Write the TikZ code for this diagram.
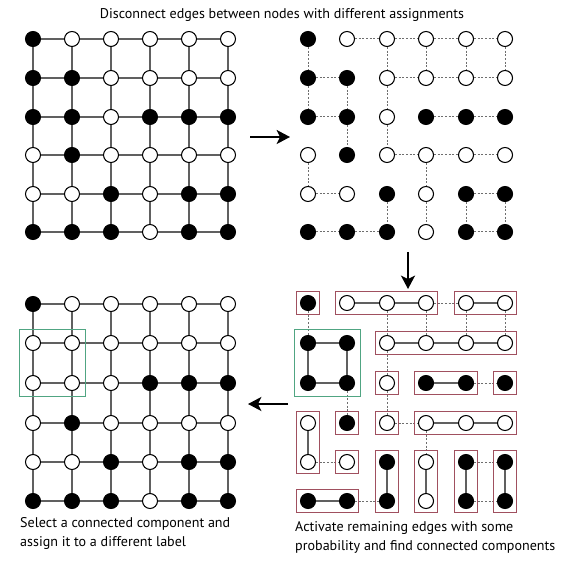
\documentclass[tikz,border=0pt]{standalone}
\usepackage{fontspec}
\setmainfont{PT Sans}
\usetikzlibrary{arrows.meta,calc,fit,positioning}

\tikzset{
  blk/.style={circle,draw=black,fill=black,line width=0.032cm,minimum size=0.45cm,inner sep=0pt},
  wht/.style={circle,draw=black,fill=white,line width=0.032cm,minimum size=0.45cm,inner sep=0pt},
  grid edge/.style={draw=r96g96b96,line width=0.035cm},
  dotted edge/.style={draw=r110g110b110,line width=0.03cm,dash pattern=on 0.06cm off 0.05cm},
  comp/.style={draw=r160g80b95,line width=0.036cm,inner sep=0.1cm},
  picked/.style={draw=r80g165b130,line width=0.036cm,inner sep=0.16cm},
  move arrow/.style={line width=0.06cm,-{Stealth[length=0.4cm,width=0.42cm,inset=0.1cm]}},
  caption/.style={align=left,inner sep=0pt,font=\fontsize{12}{16.5}\selectfont}
}

\begin{document}
\begin{tikzpicture}[x=0.03cm,y=-0.03cm]
                    \useasboundingbox (0,0) rectangle (560,573);

                    % Changing color 96 96 96
                    \definecolor{r96g96b96}{rgb}{0.376471,0.376471,0.376471}%
                    % Changing color 110 110 110
                    \definecolor{r110g110b110}{rgb}{0.431373,0.431373,0.431373}%
                    % Changing color 160 80 95
                    \definecolor{r160g80b95}{rgb}{0.627451,0.313725,0.372549}%
                    % Changing color 80 165 130
                    \definecolor{r80g165b130}{rgb}{0.313725,0.647059,0.509804}%

                    % Title
                    \node[caption] (title) at (282,15) {Disconnect edges between nodes with different assignments};

                    % Marking points of grid s (start)
                    \node[blk] (s00) at (33,39) {}; \node[wht] (s01) at (72,39) {}; \node[wht] (s02) at (111,39) {}; \node[wht] (s03) at (150,39) {}; \node[wht] (s04) at (189,39) {}; \node[wht] (s05) at (228,39) {};
                    \node[blk] (s10) at (33,78) {}; \node[blk] (s11) at (72,78) {}; \node[wht] (s12) at (111,78) {}; \node[wht] (s13) at (150,78) {}; \node[wht] (s14) at (189,78) {}; \node[wht] (s15) at (228,78) {};
                    \node[blk] (s20) at (33,117) {}; \node[blk] (s21) at (72,117) {}; \node[wht] (s22) at (111,117) {}; \node[blk] (s23) at (150,117) {}; \node[blk] (s24) at (189,117) {}; \node[blk] (s25) at (228,117) {};
                    \node[wht] (s30) at (33,155) {}; \node[blk] (s31) at (72,155) {}; \node[wht] (s32) at (111,155) {}; \node[wht] (s33) at (150,155) {}; \node[wht] (s34) at (189,155) {}; \node[wht] (s35) at (228,155) {};
                    \node[wht] (s40) at (33,194) {}; \node[wht] (s41) at (72,194) {}; \node[blk] (s42) at (111,194) {}; \node[wht] (s43) at (150,194) {}; \node[blk] (s44) at (189,194) {}; \node[blk] (s45) at (228,194) {};
                    \node[blk] (s50) at (33,232) {}; \node[blk] (s51) at (72,232) {}; \node[blk] (s52) at (111,232) {}; \node[wht] (s53) at (150,232) {}; \node[blk] (s54) at (189,232) {}; \node[blk] (s55) at (228,232) {};

                    % Drawing lines of grid s
                    \draw[grid edge] (s00) -- (s01) -- (s02) -- (s03) -- (s04) -- (s05);
                    \draw[grid edge] (s10) -- (s11) -- (s12) -- (s13) -- (s14) -- (s15);
                    \draw[grid edge] (s20) -- (s21) -- (s22) -- (s23) -- (s24) -- (s25);
                    \draw[grid edge] (s30) -- (s31) -- (s32) -- (s33) -- (s34) -- (s35);
                    \draw[grid edge] (s40) -- (s41) -- (s42) -- (s43) -- (s44) -- (s45);
                    \draw[grid edge] (s50) -- (s51) -- (s52) -- (s53) -- (s54) -- (s55);
                    \draw[grid edge] (s00) -- (s10) -- (s20) -- (s30) -- (s40) -- (s50);
                    \draw[grid edge] (s01) -- (s11) -- (s21) -- (s31) -- (s41) -- (s51);
                    \draw[grid edge] (s02) -- (s12) -- (s22) -- (s32) -- (s42) -- (s52);
                    \draw[grid edge] (s03) -- (s13) -- (s23) -- (s33) -- (s43) -- (s53);
                    \draw[grid edge] (s04) -- (s14) -- (s24) -- (s34) -- (s44) -- (s54);
                    \draw[grid edge] (s05) -- (s15) -- (s25) -- (s35) -- (s45) -- (s55);

                    % Marking points of grid d (disconnected)
                    \node[blk] (d00) at (308,39) {}; \node[wht] (d01) at (347,39) {}; \node[wht] (d02) at (387,39) {}; \node[wht] (d03) at (426,39) {}; \node[wht] (d04) at (466,39) {}; \node[wht] (d05) at (505,39) {};
                    \node[blk] (d10) at (308,78) {}; \node[blk] (d11) at (347,78) {}; \node[wht] (d12) at (387,78) {}; \node[wht] (d13) at (426,78) {}; \node[wht] (d14) at (466,78) {}; \node[wht] (d15) at (505,78) {};
                    \node[blk] (d20) at (308,117) {}; \node[blk] (d21) at (347,117) {}; \node[wht] (d22) at (387,117) {}; \node[blk] (d23) at (426,117) {}; \node[blk] (d24) at (466,117) {}; \node[blk] (d25) at (505,117) {};
                    \node[wht] (d30) at (308,155) {}; \node[blk] (d31) at (347,155) {}; \node[wht] (d32) at (387,155) {}; \node[wht] (d33) at (426,155) {}; \node[wht] (d34) at (466,155) {}; \node[wht] (d35) at (505,155) {};
                    \node[wht] (d40) at (308,194) {}; \node[wht] (d41) at (347,194) {}; \node[blk] (d42) at (387,194) {}; \node[wht] (d43) at (426,194) {}; \node[blk] (d44) at (466,194) {}; \node[blk] (d45) at (505,194) {};
                    \node[blk] (d50) at (308,232) {}; \node[blk] (d51) at (347,232) {}; \node[blk] (d52) at (387,232) {}; \node[wht] (d53) at (426,232) {}; \node[blk] (d54) at (466,232) {}; \node[blk] (d55) at (505,232) {};

                    % Drawing lines of grid d, same assignment only
                    \draw[dotted edge] (d01) -- (d02) -- (d03) -- (d04) -- (d05);
                    \draw[dotted edge] (d10) -- (d11) (d12) -- (d13) -- (d14) -- (d15);
                    \draw[dotted edge] (d20) -- (d21) (d23) -- (d24) -- (d25);
                    \draw[dotted edge] (d32) -- (d33) -- (d34) -- (d35);
                    \draw[dotted edge] (d40) -- (d41) (d44) -- (d45);
                    \draw[dotted edge] (d50) -- (d51) -- (d52) (d54) -- (d55);
                    \draw[dotted edge] (d00) -- (d10) -- (d20) (d30) -- (d40);
                    \draw[dotted edge] (d11) -- (d21) -- (d31);
                    \draw[dotted edge] (d02) -- (d12) -- (d22) -- (d32) (d42) -- (d52);
                    \draw[dotted edge] (d03) -- (d13) (d33) -- (d43) -- (d53);
                    \draw[dotted edge] (d04) -- (d14) (d44) -- (d54);
                    \draw[dotted edge] (d05) -- (d15) (d45) -- (d55);

                    % Marking points of grid c (components)
                    \node[blk] (c00) at (308,303) {}; \node[wht] (c01) at (347,303) {}; \node[wht] (c02) at (387,303) {}; \node[wht] (c03) at (426,303) {}; \node[wht] (c04) at (466,303) {}; \node[wht] (c05) at (505,303) {};
                    \node[blk] (c10) at (308,343) {}; \node[blk] (c11) at (347,343) {}; \node[wht] (c12) at (387,343) {}; \node[wht] (c13) at (426,343) {}; \node[wht] (c14) at (466,343) {}; \node[wht] (c15) at (505,343) {};
                    \node[blk] (c20) at (308,383) {}; \node[blk] (c21) at (347,383) {}; \node[wht] (c22) at (387,383) {}; \node[blk] (c23) at (426,383) {}; \node[blk] (c24) at (466,383) {}; \node[blk] (c25) at (505,383) {};
                    \node[wht] (c30) at (308,423) {}; \node[blk] (c31) at (347,423) {}; \node[wht] (c32) at (387,423) {}; \node[wht] (c33) at (426,423) {}; \node[wht] (c34) at (466,423) {}; \node[wht] (c35) at (505,423) {};
                    \node[wht] (c40) at (308,462) {}; \node[wht] (c41) at (347,462) {}; \node[blk] (c42) at (387,462) {}; \node[wht] (c43) at (426,462) {}; \node[blk] (c44) at (466,462) {}; \node[blk] (c45) at (505,462) {};
                    \node[blk] (c50) at (308,501) {}; \node[blk] (c51) at (347,501) {}; \node[blk] (c52) at (387,501) {}; \node[wht] (c53) at (426,501) {}; \node[blk] (c54) at (466,501) {}; \node[blk] (c55) at (505,501) {};

                    % Drawing active lines of grid c
                    \draw[grid edge] (c01) -- (c02) -- (c03) (c04) -- (c05);
                    \draw[grid edge] (c10) -- (c11) -- (c21) -- (c20) -- (c10);
                    \draw[grid edge] (c12) -- (c13) -- (c14) -- (c15);
                    \draw[grid edge] (c23) -- (c24) (c33) -- (c34) -- (c35);
                    \draw[grid edge] (c30) -- (c40) (c42) -- (c52) (c43) -- (c53) (c44) -- (c54) (c45) -- (c55);
                    \draw[grid edge] (c50) -- (c51);

                    % Drawing remaining lines of grid c
                    \draw[dotted edge] (c03) -- (c04) (c24) -- (c25) (c32) -- (c33) (c40) -- (c41) (c44) -- (c45);
                    \draw[dotted edge] (c51) -- (c52) (c54) -- (c55);
                    \draw[dotted edge] (c00) -- (c10) (c21) -- (c31) (c02) -- (c12) -- (c22) -- (c32);
                    \draw[dotted edge] (c03) -- (c13) (c33) -- (c43) (c04) -- (c14) (c05) -- (c15);

                    % Drawing boxes of components
                    \node[comp,fit=(c00)] (k1) {};
                    \node[comp,fit=(c01)(c03)] (k2) {};
                    \node[comp,fit=(c04)(c05)] (k3) {};
                    \node[picked,fit=(c10)(c21)] (k4) {};
                    \node[comp,fit=(c12)(c15)] (k5) {};
                    \node[comp,fit=(c22)] (k6) {};
                    \node[comp,fit=(c23)(c24)] (k7) {};
                    \node[comp,fit=(c25)] (k8) {};
                    \node[comp,fit=(c30)(c40)] (k9) {};
                    \node[comp,fit=(c31)] (k10) {};
                    \node[comp,fit=(c32)] (k11) {};
                    \node[comp,fit=(c33)(c35)] (k12) {};
                    \node[comp,fit=(c41)] (k13) {};
                    \node[comp,fit=(c42)(c52)] (k14) {};
                    \node[comp,fit=(c43)(c53)] (k15) {};
                    \node[comp,fit=(c44)(c54)] (k16) {};
                    \node[comp,fit=(c45)(c55)] (k17) {};
                    \node[comp,fit=(c50)(c51)] (k18) {};

                    % Marking points of grid f (flipped)
                    \node[blk] (f00) at (33,304) {}; \node[wht] (f01) at (72,304) {}; \node[wht] (f02) at (111,304) {}; \node[wht] (f03) at (150,304) {}; \node[wht] (f04) at (189,304) {}; \node[wht] (f05) at (228,304) {};
                    \node[wht] (f10) at (33,343) {}; \node[wht] (f11) at (72,343) {}; \node[wht] (f12) at (111,343) {}; \node[wht] (f13) at (150,343) {}; \node[wht] (f14) at (189,343) {}; \node[wht] (f15) at (228,343) {};
                    \node[wht] (f20) at (33,383) {}; \node[wht] (f21) at (72,383) {}; \node[wht] (f22) at (111,383) {}; \node[blk] (f23) at (150,383) {}; \node[blk] (f24) at (189,383) {}; \node[blk] (f25) at (228,383) {};
                    \node[wht] (f30) at (33,423) {}; \node[blk] (f31) at (72,423) {}; \node[wht] (f32) at (111,423) {}; \node[wht] (f33) at (150,423) {}; \node[wht] (f34) at (189,423) {}; \node[wht] (f35) at (228,423) {};
                    \node[wht] (f40) at (33,462) {}; \node[wht] (f41) at (72,462) {}; \node[blk] (f42) at (111,462) {}; \node[wht] (f43) at (150,462) {}; \node[blk] (f44) at (189,462) {}; \node[blk] (f45) at (228,462) {};
                    \node[blk] (f50) at (33,501) {}; \node[blk] (f51) at (72,501) {}; \node[blk] (f52) at (111,501) {}; \node[wht] (f53) at (150,501) {}; \node[blk] (f54) at (189,501) {}; \node[blk] (f55) at (228,501) {};

                    % Drawing lines of grid f
                    \draw[grid edge] (f00) -- (f01) -- (f02) -- (f03) -- (f04) -- (f05);
                    \draw[grid edge] (f10) -- (f11) -- (f12) -- (f13) -- (f14) -- (f15);
                    \draw[grid edge] (f20) -- (f21) -- (f22) -- (f23) -- (f24) -- (f25);
                    \draw[grid edge] (f30) -- (f31) -- (f32) -- (f33) -- (f34) -- (f35);
                    \draw[grid edge] (f40) -- (f41) -- (f42) -- (f43) -- (f44) -- (f45);
                    \draw[grid edge] (f50) -- (f51) -- (f52) -- (f53) -- (f54) -- (f55);
                    \draw[grid edge] (f00) -- (f10) -- (f20) -- (f30) -- (f40) -- (f50);
                    \draw[grid edge] (f01) -- (f11) -- (f21) -- (f31) -- (f41) -- (f51);
                    \draw[grid edge] (f02) -- (f12) -- (f22) -- (f32) -- (f42) -- (f52);
                    \draw[grid edge] (f03) -- (f13) -- (f23) -- (f33) -- (f43) -- (f53);
                    \draw[grid edge] (f04) -- (f14) -- (f24) -- (f34) -- (f44) -- (f54);
                    \draw[grid edge] (f05) -- (f15) -- (f25) -- (f35) -- (f45) -- (f55);

                    % Drawing box of the selected component
                    \node[picked,fit=(f10)(f21)] (sel) {};

                    % Drawing arrows between steps
                    \coordinate (r1) at (250,137); \coordinate (r2) at (290,137);
                    \coordinate (q1) at (408,252); \coordinate (q2) at (408,289);
                    \coordinate (p1) at (288,404); \coordinate (p2) at (248,404);
                    \draw[move arrow] (r1) -- (r2);
                    \draw[move arrow] (q1) -- (q2);
                    \draw[move arrow] (p1) -- (p2);

                    % Captions
                    \node[caption,anchor=north west] (selectText) at (20,517) {Select a connected component and\\assign it to a different label};
                    \node[caption,anchor=north west] (activateText) at (295,521) {Activate remaining edges with some\\probability and find connected components};
                    \end{tikzpicture}
\end{document}
